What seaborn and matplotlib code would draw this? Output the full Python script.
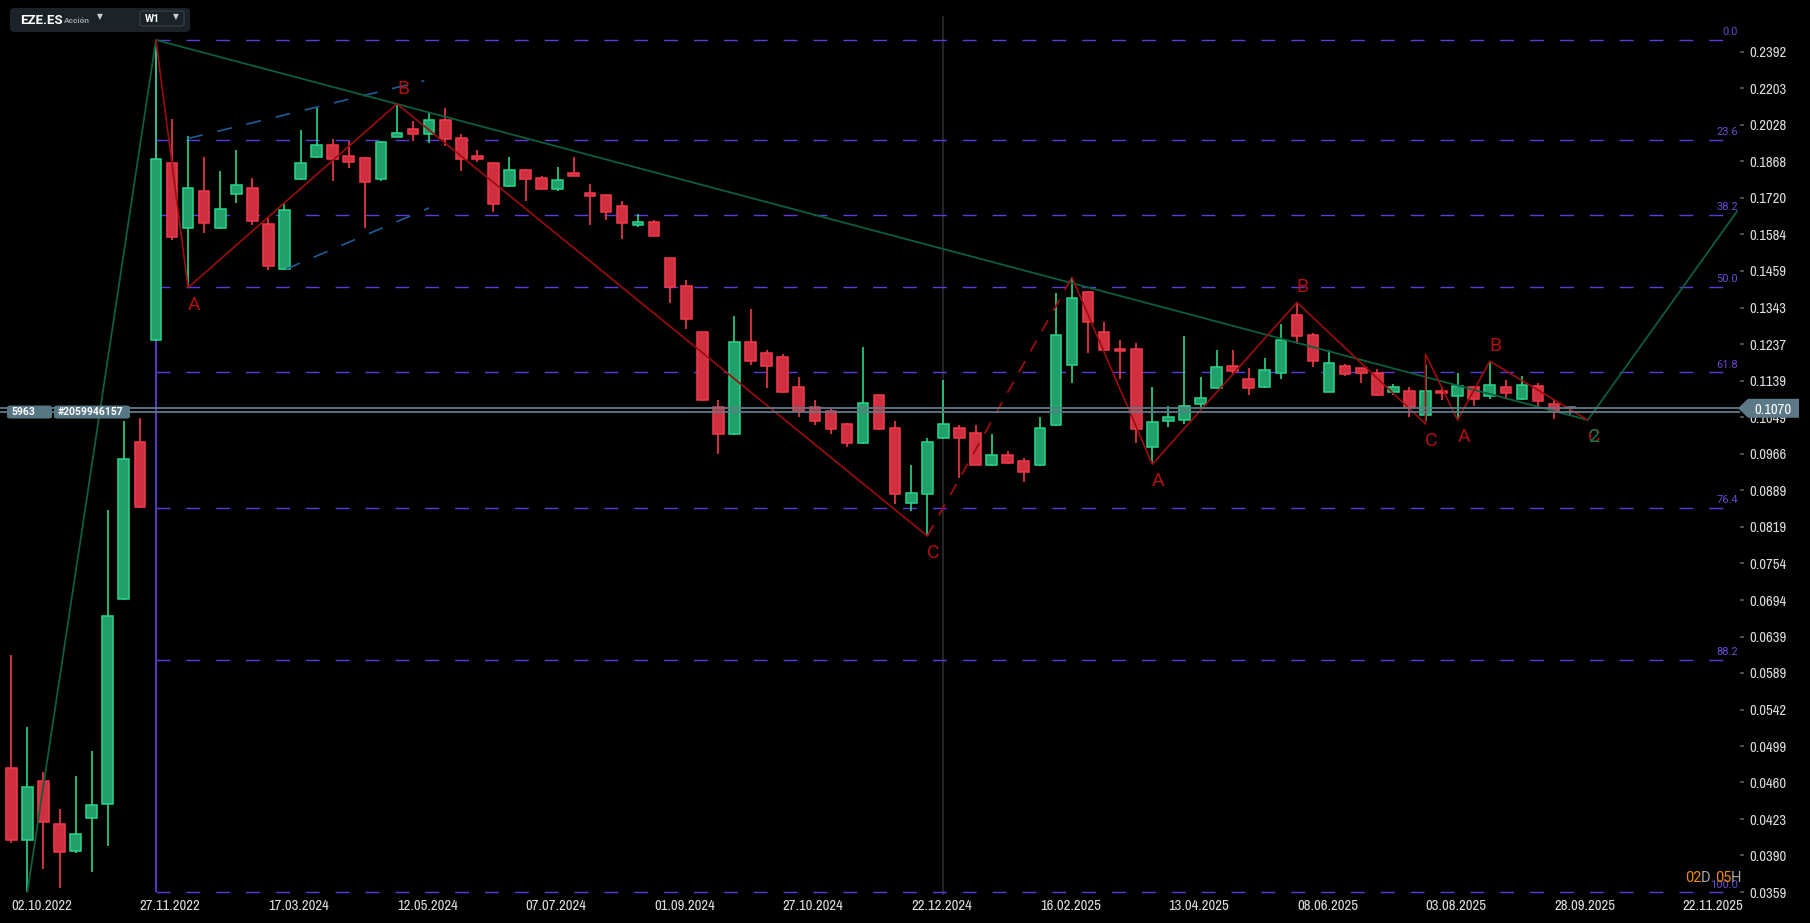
import numpy as np
import pandas as pd
import matplotlib

matplotlib.use("Agg")  # sin pantalla
import matplotlib.pyplot as plt
import seaborn as sns
from matplotlib import font_manager
from matplotlib.patches import Polygon, FancyBboxPatch

# Velas semanales EZE.ES (W1)
aperturas = [0.0475, 0.0404, 0.0461, 0.0419, 0.0394, 0.0424, 0.0438, 0.0695, 0.0991, 0.1247,
             0.1860, 0.1608, 0.1746, 0.1606, 0.1734, 0.1758, 0.1621, 0.1464, 0.1794, 0.1885,
             0.1937, 0.1890, 0.1881, 0.1794, 0.1972, 0.2008, 0.1986, 0.2050, 0.1968, 0.1890,
             0.1860, 0.1766, 0.1831, 0.1798, 0.1754, 0.1819, 0.1738, 0.1730, 0.1688, 0.1617,
             0.1628, 0.1501, 0.1409, 0.1270, 0.1072, 0.1009, 0.1242, 0.1211, 0.1200, 0.1122,
             0.1072, 0.1063, 0.1032, 0.0989, 0.1102, 0.1023, 0.0865, 0.0881, 0.1000, 0.1023,
             0.1011, 0.0941, 0.0962, 0.0951, 0.0941, 0.1030, 0.1179, 0.1390, 0.1270, 0.1222,
             0.1222, 0.0980, 0.1039, 0.1041, 0.1080, 0.1119, 0.1177, 0.1142, 0.1122, 0.1158,
             0.1320, 0.1262, 0.1111, 0.1178, 0.1171, 0.1158, 0.1111, 0.1112, 0.1053, 0.1113,
             0.1100, 0.1122, 0.1099, 0.1122, 0.1093, 0.1124, 0.1080, 0.1070]
maximos = [0.0613, 0.0521, 0.0471, 0.0433, 0.0467, 0.0494, 0.0850, 0.1040, 0.1046, 0.2457,
           0.2054, 0.1978, 0.1887, 0.1828, 0.1917, 0.1799, 0.1649, 0.1697, 0.2005, 0.2107,
           0.1965, 0.1956, 0.1885, 0.1956, 0.2127, 0.2046, 0.2082, 0.2106, 0.1985, 0.1917,
           0.1866, 0.1885, 0.1836, 0.1808, 0.1845, 0.1885, 0.1774, 0.1733, 0.1708, 0.1658,
           0.1637, 0.1503, 0.1429, 0.1272, 0.1090, 0.1318, 0.1339, 0.1220, 0.1209, 0.1147,
           0.1089, 0.1070, 0.1034, 0.1228, 0.1103, 0.1039, 0.0941, 0.1000, 0.1141, 0.1030,
           0.1030, 0.1009, 0.0971, 0.0956, 0.1048, 0.1387, 0.1438, 0.1395, 0.1300, 0.1248,
           0.1239, 0.1122, 0.1075, 0.1259, 0.1147, 0.1220, 0.1220, 0.1171, 0.1198, 0.1293,
           0.1359, 0.1267, 0.1220, 0.1182, 0.1173, 0.1168, 0.1130, 0.1122, 0.1181, 0.1121,
           0.1159, 0.1125, 0.1190, 0.1141, 0.1151, 0.1133, 0.1090, 0.1072]
minimos = [0.0401, 0.0359, 0.0378, 0.0362, 0.0392, 0.0376, 0.0398, 0.0694, 0.0855, 0.1245,
           0.1564, 0.1405, 0.1588, 0.1604, 0.1700, 0.1618, 0.1462, 0.1462, 0.1790, 0.1882,
           0.1788, 0.1839, 0.1608, 0.1788, 0.1972, 0.1957, 0.1949, 0.1935, 0.1829, 0.1867,
           0.1668, 0.1763, 0.1710, 0.1754, 0.1747, 0.1807, 0.1618, 0.1638, 0.1569, 0.1610,
           0.1578, 0.1358, 0.1280, 0.1088, 0.0966, 0.1007, 0.1181, 0.1121, 0.1107, 0.1050,
           0.1031, 0.1010, 0.0981, 0.0987, 0.1019, 0.0863, 0.0848, 0.0802, 0.0998, 0.0914,
           0.0941, 0.0940, 0.0943, 0.0907, 0.0939, 0.1028, 0.1132, 0.1211, 0.1218, 0.1142,
           0.0990, 0.0943, 0.1025, 0.1032, 0.1070, 0.1117, 0.1153, 0.1102, 0.1120, 0.1142,
           0.1236, 0.1174, 0.1109, 0.1152, 0.1133, 0.1101, 0.1102, 0.1050, 0.1040, 0.1090,
           0.1042, 0.1075, 0.1092, 0.1092, 0.1090, 0.1074, 0.1045, 0.1052]
cierres = [0.0404, 0.0455, 0.0421, 0.0393, 0.0409, 0.0437, 0.0669, 0.0954, 0.0857, 0.1877,
           0.1576, 0.1758, 0.1625, 0.1677, 0.1770, 0.1634, 0.1476, 0.1673, 0.1860, 0.1937,
           0.1877, 0.1864, 0.1785, 0.1950, 0.1990, 0.1986, 0.2050, 0.1964, 0.1877, 0.1877,
           0.1696, 0.1831, 0.1794, 0.1754, 0.1790, 0.1807, 0.1727, 0.1665, 0.1625, 0.1628,
           0.1578, 0.1406, 0.1308, 0.1089, 0.1009, 0.1242, 0.1190, 0.1178, 0.1109, 0.1063,
           0.1039, 0.1020, 0.0989, 0.1082, 0.1020, 0.0881, 0.0883, 0.0991, 0.1032, 0.1000,
           0.0941, 0.0962, 0.0945, 0.0926, 0.1023, 0.1262, 0.1371, 0.1299, 0.1220, 0.1217,
           0.1020, 0.1037, 0.1050, 0.1075, 0.1094, 0.1174, 0.1163, 0.1119, 0.1166, 0.1247,
           0.1259, 0.1190, 0.1184, 0.1155, 0.1158, 0.1103, 0.1122, 0.1074, 0.1112, 0.1107,
           0.1125, 0.1092, 0.1129, 0.1107, 0.1127, 0.1087, 0.1063, 0.1070]

# Eje de tiempo: una etiqueta cada 8 velas
fechas_eje = ["02.10.2022", "27.11.2022", "17.03.2024", "12.05.2024", "07.07.2024",
              "01.09.2024", "27.10.2024", "22.12.2024", "16.02.2025", "13.04.2025",
              "08.06.2025", "03.08.2025", "28.09.2025", "22.11.2025"]
precios_eje = [0.2392, 0.2203, 0.2028, 0.1868, 0.1720, 0.1584, 0.1459, 0.1343, 0.1237,
               0.1139, 0.1049, 0.0966, 0.0889, 0.0819, 0.0754, 0.0694, 0.0639, 0.0589,
               0.0542, 0.0499, 0.0460, 0.0423, 0.0390, 0.0359]

# Retroceso de Fibonacci
fib_niveles = [0.0, 23.6, 38.2, 50.0, 61.8, 76.4, 88.2, 100.0]
fib_alto = 0.2457
fib_bajo = 0.0359
fib_x = [9, 107.45]

# Onda 1-2 (verde)
onda_x = [1, 9, 98.1, 107.4]
onda_y = [0.0359, 0.2457, 0.1042, 0.1670]

# Correcciones ABC (rojo)
abc1_x = [9, 11, 24, 57]
abc1_y = [0.2457, 0.1405, 0.2127, 0.0802]
abc1_proy_x = [57, 66]
abc1_proy_y = [0.0802, 0.1438]
abc2_x = [66, 71, 80, 88]
abc2_y = [0.1438, 0.0943, 0.1359, 0.1033]
abc3_x = [88, 88, 90, 92, 98.1]
abc3_y = [0.1033, 0.1209, 0.1042, 0.1190, 0.1042]

# Canal (azul)
canal_sup_x = [11, 25.7]
canal_sup_y = [0.1967, 0.2241]
canal_inf_x = [17.1, 26.0]
canal_inf_y = [0.1465, 0.1682]

linea_vertical = 58
precio_actual = 0.1070
precio_orden = 0.1061

# Estilo
sns.set_theme(style="dark", rc={"axes.facecolor": "black", "figure.facecolor": "black",
                                "axes.grid": False})
plt.rcParams["font.family"] = ["Roboto", "DejaVu Sans"]

# Fuente estrecha para los ejes si existe alguna
nombres = sorted({f.name for f in font_manager.fontManager.ttflist})
estrechas = [n for n in nombres if "Narrow" in n or "Condensed" in n]
if estrechas:
    fuente_ejes, tam_ejes = estrechas[0], 10.6
else:
    fuente_ejes, tam_ejes = "Roboto", 9.2

VERDE, VERDE_BORDE = "#22a06b", "#2bd48b"
ROJO, ROJO_BORDE = "#cf2f3e", "#f23a4b"
MORADO = "#5f3bd6"
ROJO_ZZ = "#9e0d0d"
VERDE_ONDA = "#0c5e3c"
GRIS_PRECIO = "#5f7b89"

W, H = 1810, 923
fig = plt.figure(figsize=(W / 100, H / 100), dpi=100)
ax = fig.add_axes([0, 28 / H, 1740 / W, 895 / H])
ax.set_facecolor("black")
ax.set_yscale("log")

df = pd.DataFrame({"open": aperturas, "high": maximos, "low": minimos, "close": cierres})
df["idx"] = np.arange(len(df))
df["base"] = df[["open", "close"]].min(axis=1)
df["alto"] = np.maximum((df["close"] - df["open"]).abs(), df["base"] * 0.004)
df["relleno"] = np.where(df["close"] > df["open"], VERDE,
                         np.where(df["close"] < df["open"], ROJO, "#5d7380"))
df["borde"] = np.where(df["close"] > df["open"], VERDE_BORDE,
                       np.where(df["close"] < df["open"], ROJO_BORDE, "#6f8794"))

# Líneas de apoyo
ax.axvline(linea_vertical, ymin=0, ymax=1 - 17 / 895, color="#242424", lw=1.5, zorder=1)

niveles = [fib_alto - r / 100 * (fib_alto - fib_bajo) for r in fib_niveles]
ax.hlines(niveles, fib_x[0], fib_x[1], colors=MORADO, linestyles=(0, (10, 11.5)), lw=1.0, zorder=1)
ax.vlines(fib_x[0], fib_bajo, fib_alto, colors=MORADO, lw=1.3, zorder=1)
for r, nivel in zip(fib_niveles, niveles):
    ax.text(fib_x[1], nivel * 1.006, f"{r:.1f}", ha="right", va="bottom", fontsize=8,
            color="#6a4bd1", zorder=2)

# Velas
ax.vlines(df["idx"], df["low"], df["high"], colors=df["borde"], lw=1.2, zorder=3)
ax.bar(df["idx"], df["alto"], bottom=df["base"], width=0.66, color=df["relleno"],
       edgecolor=df["borde"], linewidth=1.1, zorder=4)

# Canal azul
for cx, cy in [(canal_sup_x, canal_sup_y), (canal_inf_x, canal_inf_y)]:
    ax.plot(cx, cy, color="#1d5d9b", lw=1.2, linestyle=(0, (9, 9)), zorder=5)

# Onda verde
sns.lineplot(x=onda_x, y=onda_y, estimator=None, sort=False, color=VERDE_ONDA, lw=1.3,
             ax=ax, zorder=5)

# Zigzags ABC
for zx, zy in [(abc1_x, abc1_y), (abc2_x, abc2_y), (abc3_x, abc3_y)]:
    sns.lineplot(x=zx, y=zy, estimator=None, sort=False, color=ROJO_ZZ, lw=1.2, ax=ax, zorder=5)
ax.plot(abc1_proy_x, abc1_proy_y, color=ROJO_ZZ, lw=1.3, linestyle=(0, (7, 6)), zorder=5)


def etiqueta(x, y, txt, color, abajo):
    ax.annotate(txt, (x, y), xytext=(6, -17 if abajo else 15), textcoords="offset pixels",
                ha="center", va="center", color=color, fontsize=14, zorder=6)


for zx, zy in [(abc1_x[1:], abc1_y[1:]), (abc2_x[1:], abc2_y[1:]), (abc3_x[2:], abc3_y[2:])]:
    for (x, y), letra, abajo in zip(zip(zx, zy), "ABC", [True, False, True]):
        etiqueta(x, y, letra, "#b01010", abajo)
etiqueta(onda_x[1], onda_y[1], "1", "#127a4b", False)
etiqueta(onda_x[2], onda_y[2], "2", "#127a4b", True)

# Precio actual
ax.axhline(precio_actual, color=GRIS_PRECIO, lw=1.3, zorder=6)
ax.axhline(precio_orden, color=GRIS_PRECIO, lw=1.3, zorder=6)

# Ejes
ax.set_xlim(-0.703, 107.57)
ax.set_ylim(0.03567, 0.2689)
ax.yaxis.tick_right()
ax.set_yticks(precios_eje, [f"{p:.4f}" for p in precios_eje])
ax.minorticks_off()
ax.set_xticks(np.arange(len(fechas_eje)) * 8, fechas_eje)
for lbl in ax.get_xticklabels():
    lbl.set_horizontalalignment("left")
ax.tick_params(axis="y", length=3, pad=4, colors="#555555", labelcolor="#dcdcdc",
               labelsize=tam_ejes, labelfontfamily=fuente_ejes)
ax.tick_params(axis="x", length=0, pad=3, labelcolor="#dcdcdc", labelsize=tam_ejes,
               labelfontfamily=fuente_ejes)
for lbl in ax.get_yticklabels():
    lbl.set_verticalalignment("center_baseline")
for s in ax.spines.values():
    s.set_visible(False)
ax.grid(False)


def fx(px):
    return px / W


def fy(py):
    return 1 - py / H


# Etiqueta del precio actual a la derecha
fig.canvas.draw()
yp = H - ax.transData.transform((0, precio_actual))[1]
fig.add_artist(Polygon([(fx(1738), fy(yp)), (fx(1748), fy(yp - 9.5)), (fx(1799), fy(yp - 9.5)),
                        (fx(1799), fy(yp + 9.5)), (fx(1748), fy(yp + 9.5))],
                       closed=True, transform=fig.transFigure, facecolor="#5b7986",
                       edgecolor="none", zorder=10))
fig.text(fx(1773), fy(yp), f"{precio_actual:.4f}", ha="center", va="center_baseline",
         fontsize=tam_ejes, color="white", fontweight="bold", family=fuente_ejes, zorder=11)

# Etiquetas de la orden a la izquierda
yo = H - ax.transData.transform((0, precio_orden))[1]
for x0, x1, txt in [(7, 52, "5963"), (54, 130, "#2059946157")]:
    fig.add_artist(FancyBboxPatch((fx(x0), fy(yo + 6.5)), fx(x1 - x0), 13 / H,
                                  boxstyle="round,pad=0,rounding_size=0.002",
                                  transform=fig.transFigure, facecolor="#587785",
                                  edgecolor="none", zorder=10))
    fig.text(fx(x0 + 4), fy(yo), txt, ha="left", va="center", fontsize=7.5,
             color="white", fontweight="bold", zorder=11)

# Cabecera del símbolo
fig.add_artist(FancyBboxPatch((fx(10), fy(32)), fx(180), 24 / H,
                              boxstyle="round,pad=0,rounding_size=0.003",
                              transform=fig.transFigure, facecolor="#1c2328",
                              edgecolor="none", zorder=10))
fig.text(fx(20), fy(20), "EZE.ES", ha="left", va="center", fontsize=9.5, color="white",
         fontweight="bold", zorder=11)
fig.text(fx(64), fy(20.5), "Acción", ha="left", va="center", fontsize=6, color="#9aa0a6",
         fontweight="bold", zorder=11)
fig.text(fx(100), fy(17), "▼", ha="center", va="center", fontsize=5.5, color="#cfcfcf",
         family="DejaVu Sans", zorder=11)
fig.add_artist(FancyBboxPatch((fx(140), fy(26)), fx(44), 15 / H,
                              boxstyle="round,pad=0,rounding_size=0.002",
                              transform=fig.transFigure, facecolor="#1c2328",
                              edgecolor="#39424a", lw=0.8, zorder=11))
fig.text(fx(145), fy(18.5), "W1", ha="left", va="center", fontsize=7.5, color="white",
         fontweight="bold", zorder=12)
fig.text(fx(176), fy(17), "▼", ha="center", va="center", fontsize=5.5, color="#cfcfcf",
         family="DejaVu Sans", zorder=12)

# Cuenta atrás de la vela: trozos encadenados
rend = fig.canvas.get_renderer()
x_px = 1685
for txt, col in [("02", "#f08c00"), ("D ", "#a8a8a8"), ("05", "#f08c00"), ("H", "#a8a8a8")]:
    t = fig.text(fx(x_px), fy(878), txt, ha="left", va="center", fontsize=10.5, color=col,
                 zorder=11)
    x_px += t.get_window_extent(rend).width

fig.savefig("out.png", dpi=100, facecolor="black")
plt.close(fig)
